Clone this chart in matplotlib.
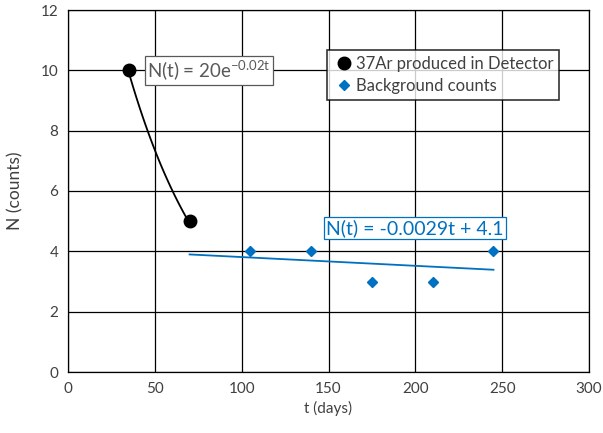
import matplotlib.pyplot as plt
import numpy as np

plt.rcParams["font.family"] = ["Lato", "DejaVu Sans"]

# data
ar_t = [35, 70]
ar_n = [10, 5]
bg_t = [105, 140, 175, 210, 245]
bg_n = [4, 4, 3, 3, 4]

blue = "#0070C0"
grey = "#595959"

fig = plt.figure(figsize=(6.03, 4.33), dpi=100)
ax = fig.add_axes([68 / 603, 61 / 433, 521 / 603, 362 / 433])

# exponential trend through the detector points
tt = np.linspace(ar_t[0], ar_t[1], 50)
ax.plot(tt, 20 * np.exp(-0.02 * tt), color="black", lw=1.3, zorder=3)
ax.plot(ar_t, ar_n, "o", color="black", ms=9, zorder=4,
        label="37Ar produced in Detector")

# linear trend for background counts
lt = np.array([70, 245])
ax.plot(lt, -0.0029 * lt + 4.1, color=blue, lw=1.3, zorder=3)
ax.plot(bg_t, bg_n, "D", color=blue, ms=5.5, ls="none", zorder=4,
        label="Background counts")

ax.set_xlim(0, 300)
ax.set_ylim(0, 12)
ax.set_xticks(range(0, 301, 50))
ax.set_yticks(range(0, 13, 2))
ax.grid(True, color="black", lw=0.9)
ax.set_axisbelow(True)
for s in ax.spines.values():
    s.set_color("black")
    s.set_linewidth(0.9)
ax.tick_params(length=0, labelsize=11, colors="#404040", pad=7)

ax.set_xlabel("t (days)", fontsize=11, color="#404040", labelpad=4)
ax.set_ylabel("N (counts)", fontsize=12.5, color="#404040", labelpad=12)

ax.text(45.5, 9.98, r"N(t) = 20e$^{\mathregular{-0.02t}}$", fontsize=13.5, color=grey,
        va="center", ha="left",
        bbox=dict(boxstyle="square,pad=0.12", fc="white", ec=grey, lw=0.9))
ax.text(148.5, 4.77, "N(t) = -0.0029t + 4.1", fontsize=14, color=blue,
        va="center", ha="left",
        bbox=dict(boxstyle="square,pad=0.12", fc="white", ec=blue, lw=0.9))

leg = ax.legend(loc="upper left", bbox_to_anchor=(0.497, 0.889), fontsize=12,
                frameon=True, fancybox=False, edgecolor="black",
                handletextpad=0.1, handlelength=1.3, borderpad=0.35,
                labelspacing=0.35, borderaxespad=0)
leg.get_frame().set_linewidth(1.2)
for t in leg.get_texts():
    t.set_color("#404040")

fig.savefig("out.png", dpi=100)
